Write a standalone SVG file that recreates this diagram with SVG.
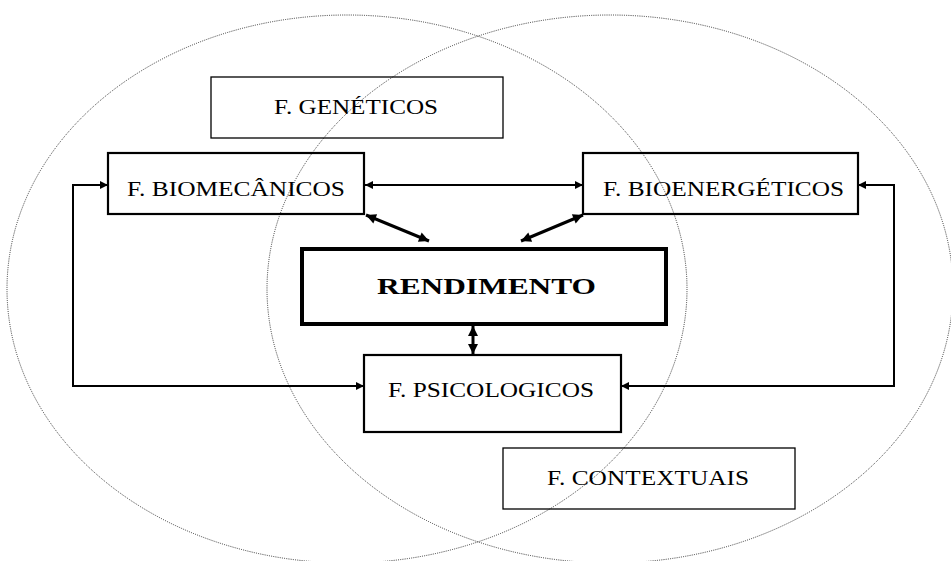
<svg xmlns="http://www.w3.org/2000/svg" width="951" height="561" viewBox="0 0 951 561">
<style>
  .ell { fill: none; stroke: #222; stroke-width: 0.9; stroke-dasharray: 1 1.2; }
  .box { fill: none; stroke: #000; stroke-width: 2.2; }
  .thin { fill: none; stroke: #000; stroke-width: 1.3; }
  .main { fill: none; stroke: #000; stroke-width: 4; }
  .lbl { font-family: "Liberation Serif", "Times New Roman", serif; font-size: 25px; fill: #000; }
  .bold { font-family: "Liberation Serif", "Times New Roman", serif; font-size: 30px; font-weight: bold; fill: #000; }
  .con { fill: none; stroke: #000; stroke-width: 2; }
  .con-thick { fill: none; stroke: #000; stroke-width: 3; }
</style>
<defs>
  <marker id="ah" viewBox="0 0 10 10" refX="10" refY="5" markerWidth="9" markerHeight="8" markerUnits="userSpaceOnUse" orient="auto-start-reverse">
    <path d="M0,0 L10,5 L0,10 z" fill="#000"/>
  </marker>
  <marker id="ah2" viewBox="0 0 10 10" refX="10" refY="5" markerWidth="11" markerHeight="10" markerUnits="userSpaceOnUse" orient="auto-start-reverse">
    <path d="M0,0 L10,5 L0,10 z" fill="#000"/>
  </marker>
</defs>
<rect width="951" height="561" fill="#fff"/>
<g id="ellipses">
  <ellipse class="ell" cx="347" cy="289" rx="340" ry="274"/>
  <ellipse class="ell" cx="610" cy="289" rx="343" ry="274"/>
</g>
<g id="connectors">
  <path class="con" d="M108 185 H73 V386 H364" marker-start="url(#ah)" marker-end="url(#ah)"/>
  <path class="con" d="M858 185 H894 V386 H621" marker-start="url(#ah)" marker-end="url(#ah)"/>
  <path class="con" d="M365 185 H583" marker-start="url(#ah)" marker-end="url(#ah)"/>
  <path class="con-thick" d="M366 215 L429 241" marker-start="url(#ah2)" marker-end="url(#ah2)"/>
  <path class="con-thick" d="M583 215 L521 241" marker-start="url(#ah2)" marker-end="url(#ah2)"/>
  <path class="con-thick" d="M473 326 V354" marker-start="url(#ah2)" marker-end="url(#ah2)"/>
</g>
<g id="geneticos">
  <rect class="thin" x="211" y="77" width="292" height="61"/>
  <text class="lbl" transform="translate(274,114) scale(1,0.85)" textLength="164" lengthAdjust="spacingAndGlyphs">F. GENÉTICOS</text>
</g>
<g id="biomecanicos">
  <rect class="box" x="108" y="153" width="256" height="61"/>
  <text class="lbl" transform="translate(127,196) scale(1,0.85)" textLength="218" lengthAdjust="spacingAndGlyphs">F. BIOMECÂNICOS</text>
</g>
<g id="bioenergeticos">
  <rect class="box" x="583" y="153" width="275" height="61"/>
  <text class="lbl" transform="translate(603,196) scale(1,0.85)" textLength="241" lengthAdjust="spacingAndGlyphs">F. BIOENERGÉTICOS</text>
</g>
<g id="rendimento">
  <rect class="main" x="302" y="249" width="364" height="75"/>
  <text class="bold" transform="translate(377,294) scale(1,0.8)" textLength="219" lengthAdjust="spacingAndGlyphs">RENDIMENTO</text>
</g>
<g id="psicologicos">
  <rect class="box" x="364" y="355" width="257" height="77"/>
  <text class="lbl" transform="translate(388,397) scale(1,0.85)" textLength="206" lengthAdjust="spacingAndGlyphs">F. PSICOLOGICOS</text>
</g>
<g id="contextuais">
  <rect class="thin" x="503" y="448" width="292" height="61"/>
  <text class="lbl" transform="translate(547,485) scale(1,0.85)" textLength="202" lengthAdjust="spacingAndGlyphs">F. CONTEXTUAIS</text>
</g>
</svg>
